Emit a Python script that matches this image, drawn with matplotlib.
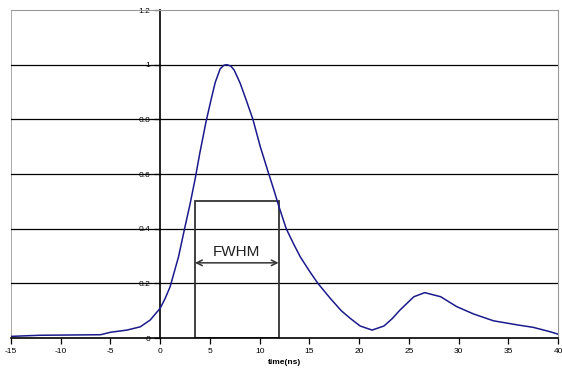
import matplotlib
matplotlib.use("Agg")
import matplotlib.pyplot as plt
from matplotlib.patches import Rectangle

plt.rcParams["font.family"] = ["Liberation Sans", "DejaVu Sans"]

# pulse shape
time_ns = [-15, -12.1, -6.0, -5.0, -3.35, -2.0, -1.0, 0.0, 0.5, 1.0, 1.4, 1.84,
           2.45, 3.0, 3.5, 4.0, 4.6, 5.1, 5.53, 6.03, 6.4, 6.7, 7.1,
           7.44, 8.04, 8.7, 9.32, 10.06, 10.83, 11.4, 11.9, 12.67, 13.4, 14.08,
           15.0, 15.85, 17.1, 18.2, 19.1, 20.1, 21.3, 22.5, 23.3, 24.1, 25.5,
           26.6, 28.2, 29.8, 31.5, 33.5, 35.9, 37.5, 39.2, 40]
signal = [0.006, 0.01, 0.012, 0.021, 0.029, 0.041, 0.066, 0.109, 0.145, 0.188,
          0.24, 0.297, 0.4, 0.49, 0.58, 0.68, 0.79, 0.87, 0.935, 0.985,
          0.998, 1.0, 0.995, 0.98, 0.932, 0.865, 0.8, 0.70, 0.61, 0.545, 0.485,
          0.4, 0.345, 0.297, 0.245, 0.2, 0.145, 0.1, 0.072, 0.044, 0.029,
          0.044, 0.07, 0.102, 0.151, 0.166, 0.151, 0.115, 0.088, 0.063, 0.048,
          0.039, 0.023, 0.014]

fwhm_left, fwhm_right, half_max = 3.5, 11.9, 0.5
arrow_y = 0.275
x_ticks = list(range(-15, 45, 5))
y_ticks = [0, 0.2, 0.4, 0.6, 0.8, 1, 1.2]

fig = plt.figure(figsize=(5.62, 3.78), dpi=100)
ax = fig.add_axes([0.0196, 0.1058, 0.9734, 0.8677])

for y in y_ticks[1:-1]:
    ax.axhline(y, color="black", lw=0.9, zorder=1)

ax.plot(time_ns, signal, color="#1a1a8c", lw=1.1, zorder=3)

ax.add_patch(Rectangle((fwhm_left, 0), fwhm_right - fwhm_left, half_max,
                       fill=False, edgecolor="#333333", lw=1.3, zorder=2))
ax.annotate("", xy=(fwhm_left, arrow_y), xytext=(fwhm_right, arrow_y),
            arrowprops=dict(arrowstyle="<->", color="#333333", lw=1.1,
                            shrinkA=0, shrinkB=0))
ax.text((fwhm_left + fwhm_right) / 2, arrow_y + 0.015, "FWHM", ha="center",
        va="bottom", fontsize=11, color="#222222")

ax.set_xlim(-15, 40)
ax.set_ylim(0, 1.2)
ax.set_xticks(x_ticks)
ax.set_xticklabels([str(t) for t in x_ticks])
ax.set_yticks(y_ticks)
ax.set_yticklabels(["0", "0.2", "0.4", "0.6", "0.8", "1", "1.2"])
ax.tick_params(axis="both", labelsize=6, length=4, width=0.9, direction="out",
               colors="black", pad=3)

ax.spines["left"].set_position(("data", 0))
ax.spines["left"].set_linewidth(1.2)
ax.spines["bottom"].set_linewidth(1.2)
ax.spines["top"].set_color("#999999")
ax.spines["right"].set_color("#999999")
# gray frame on the left edge of the plot area
ax.axvline(-15, color="#999999", lw=1.2, zorder=0)

ax.set_xlabel("time(ns)", fontsize=6, fontweight="bold", labelpad=3)

fig.savefig("out.png", dpi=100)
